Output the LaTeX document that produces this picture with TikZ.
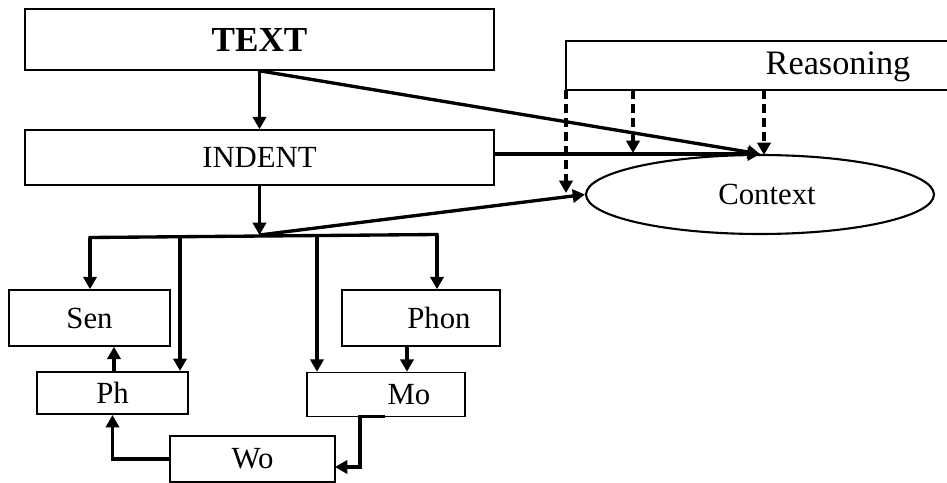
\documentclass[tikz,border=0pt]{standalone}
\usepackage{fontspec}
\setmainfont{Liberation Serif}
\usetikzlibrary{positioning}
\usetikzlibrary{arrows.meta}
\usetikzlibrary{shapes.geometric}

\begin{document}
\begin{tikzpicture}[x=0.02cm,y=-0.02cm,
    every node/.style={font=\fontsize{17.5}{20}\selectfont},
    box/.style={draw=black,line width=0.9pt,inner sep=0pt},
    link/.style={line width=1.9pt,-{Triangle[length=7pt,width=7.5pt]}},
    hint/.style={line width=1.9pt,dash pattern=on 5pt off 3pt,-{Triangle[length=7pt,width=7.5pt]}}]
    \useasboundingbox (0,0) rectangle (947,483);

    \node (textbox)[box,minimum width=9.38cm,minimum height=1.22cm,font=\fontsize{20}{24}\selectfont\bfseries] at (259.5,39.5) {TEXT};
    \node (indent)[box,minimum width=9.38cm,minimum height=1.1cm] at (259.5,157.5) {INDENT};
    \node (context)[box,line width=1.2pt,ellipse,minimum width=6.96cm,minimum height=1.58cm] at (760,194.5) {\hspace{0.28cm}Context};
    \node (reasoning)[font=\fontsize{19.5}{22}\selectfont] at (838,67) {Reasoning};
    \draw[line width=0.9pt] (947,41) -- (566,41) -- (566,90) -- (947,90);

    \node (sen)[box,minimum width=3.22cm,minimum height=1.12cm] at (89.5,318) {Sen};
    \node (ph)[box,minimum width=3.02cm,minimum height=0.85cm] at (112.5,393) {Ph};
    \node (phon)[box,minimum width=3.16cm,minimum height=1.12cm] at (421,318) {\hspace{0.72cm}Phon};
    \node (mo)[box,minimum width=3.16cm,minimum height=0.88cm] at (386,394.5) {\hspace{0.92cm}Mo};
    \node (wo)[box,minimum width=3.3cm,minimum height=0.92cm] at (252.5,459) {Wo};

    % bus under INDENT
    \coordinate (bus) at (259.5,235);
    \coordinate (bus-l) at (90,237.5);
    \coordinate (bus-ph) at (180,236.8);
    \coordinate (bus-mo) at (317,235.6);
    \coordinate (bus-r) at (437,234.5);
    \coordinate (phon-out) at (407,346);
    \coordinate (mo-out) at (385,416.5);
    \coordinate (mo-bend) at (360,416.5);
    \coordinate (wo-in) at (335,467);

    \draw[link] (textbox) -- (indent);
    \draw[link] (textbox.south) -- (context.north);
    \draw[link] (indent.east |- context.north) -- (context.north);
    \draw[link] (indent) -- (bus);
    \draw[link] (bus) -- (context.west);
    \draw[line width=1.9pt,line cap=rect] (bus-l) -- (bus-r);

    \draw[link] (bus-l) -- (bus-l |- sen.north);
    \draw[link] (bus-ph) -- (bus-ph |- ph.north);
    \draw[link] (bus-mo) -- (bus-mo |- mo.north);
    \draw[link] (bus-r) -- (bus-r |- phon.north);
    \draw[link] (phon-out) -- (phon-out |- mo.north);
    \draw[link] (ph.north -| 114,0) -- (sen.south -| 114,0);
    \draw[link] (mo-out) -- (mo-bend) |- (wo-in);
    \draw[link] (wo.west) -| (ph.south);

    % dashed hints from Reasoning
    \coordinate (r-1) at (566,90);
    \coordinate (r-2) at (633,90);
    \coordinate (r-3) at (764,90);
    \draw[hint] (r-1) -- (566,193);
    \draw[hint] (r-2) -- (633,153);
    \draw[hint] (r-3) -- (764,155);
\end{tikzpicture}
\end{document}
